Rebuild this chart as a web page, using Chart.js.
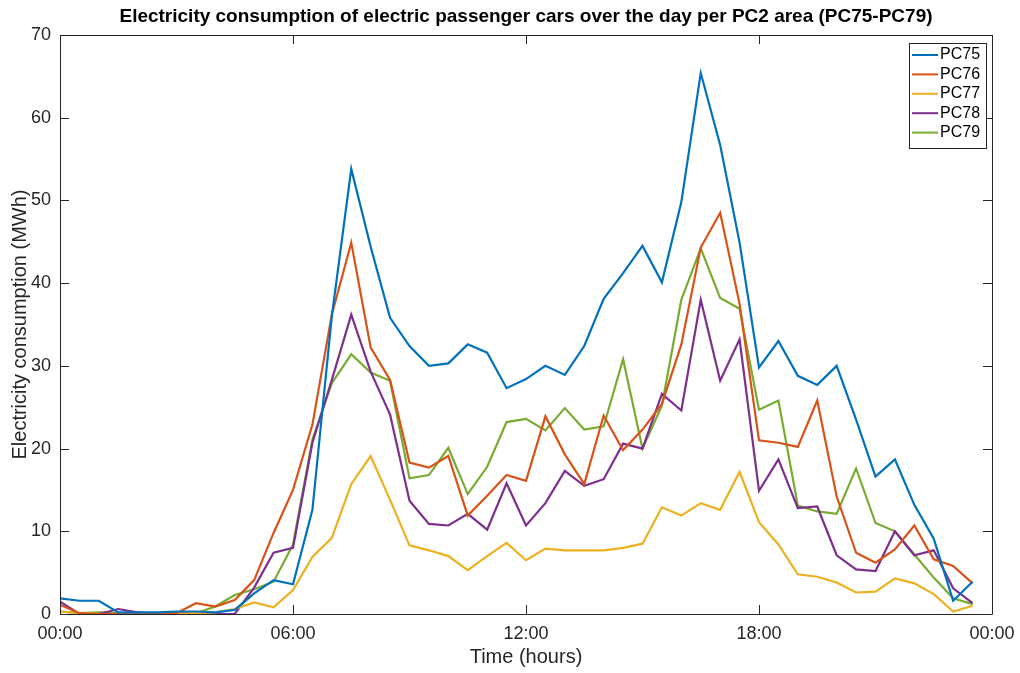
<!DOCTYPE html>
<html lang="en">

<head>
    <meta charset="UTF-8">
    <title>Electricity consumption PC75-PC79</title>
    <script src="https://cdn.jsdelivr.net/npm/chart.js"></script>
    <style>
        body {
            margin: 0;
            background-color: #ffffff;
        }

        .chart-box {
            width: 1020px;
            height: 673px;
        }
    </style>
</head>

<body>
    <div class="chart-box">
        <canvas id="pcChart" width="1020" height="673"></canvas>
    </div>

    <script>
        // half-hour slots, in hours since midnight
        const hours = [0, 0.5, 1, 1.5, 2, 2.5, 3, 3.5, 4, 4.5, 5, 5.5,
            6, 6.5, 7, 7.5, 8, 8.5, 9, 9.5, 10, 10.5, 11, 11.5,
            12, 12.5, 13, 13.5, 14, 14.5, 15, 15.5, 16, 16.5, 17, 17.5,
            18, 18.5, 19, 19.5, 20, 20.5, 21, 21.5, 22, 22.5, 23, 23.5];

        const seriesNames = ['PC75', 'PC76', 'PC77', 'PC78', 'PC79'];
        const seriesColors = ['#0072BD', '#D95319', '#EDB120', '#7E2F8E', '#77AC30'];

        // MWh per half hour
        const pc75 = [1.9, 1.6, 1.6, 0.2, 0.2, 0.2, 0.3, 0.3, 0.2, 0.5, 2.5, 4.1,
            3.6, 12.6, 36.0, 53.8, 44.4, 35.8, 32.4, 30.0, 30.3, 32.6, 31.6, 27.3,
            28.4, 30.0, 28.9, 32.4, 38.1, 41.2, 44.5, 40.1, 49.8, 65.4, 56.7, 44.9,
            29.8, 33.0, 28.8, 27.7, 30.0, 23.5, 16.6, 18.7, 13.2, 9.1, 1.6, 3.9];
        const pc76 = [1.1, 0.1, 0, 0, 0, 0, 0.1, 1.3, 0.9, 1.7, 4.1, 9.8,
            15.0, 22.9, 36.2, 44.9, 32.2, 28.3, 18.3, 17.7, 19.1, 11.9, 14.3, 16.8,
            16.1, 23.9, 19.3, 15.7, 24.0, 19.8, 22.3, 25.4, 32.6, 44.3, 48.5, 37.5,
            21.0, 20.7, 20.2, 25.8, 14.2, 7.4, 6.2, 7.8, 10.7, 6.6, 5.8, 3.7];
        const pc77 = [0.3, 0.1, 0, 0, 0.1, 0, 0, 0.1, 0.2, 0.6, 1.4, 0.8,
            2.9, 6.9, 9.2, 15.7, 19.1, 13.8, 8.3, 7.7, 7.0, 5.3, 7.0, 8.6,
            6.5, 7.9, 7.7, 7.7, 7.7, 8.0, 8.5, 12.9, 11.9, 13.4, 12.6, 17.2,
            11.1, 8.4, 4.8, 4.5, 3.8, 2.6, 2.7, 4.3, 3.7, 2.4, 0.3, 1.0];
        const pc78 = [1.5, 0, 0, 0.6, 0.2, 0, 0.1, 0, 0, 0, 3.2, 7.4,
            8.0, 20.7, 28.3, 36.2, 29.3, 24.1, 13.7, 10.9, 10.7, 12.1, 10.2, 15.8,
            10.7, 13.4, 17.3, 15.5, 16.3, 20.6, 20.0, 26.6, 24.6, 38.0, 28.2, 33.2,
            14.9, 18.7, 12.8, 13.0, 7.1, 5.4, 5.2, 10.0, 7.1, 7.7, 3.1, 1.3];
        const pc79 = [0.3, 0.1, 0.2, 0.1, 0.1, 0.1, 0.1, 0.1, 0.9, 2.3, 3.0, 3.9,
            8.4, 21.1, 27.9, 31.4, 29.2, 28.2, 16.4, 16.8, 20.1, 14.5, 17.8, 23.2,
            23.6, 22.2, 24.9, 22.3, 22.7, 30.8, 20.0, 25.2, 38.0, 44.2, 38.2, 36.9,
            24.7, 25.8, 13.1, 12.4, 12.1, 17.6, 11.0, 10.0, 7.2, 4.4, 1.9, 1.2];

        const xTickValues = [0, 6, 12, 18, 24];
        const xTickLabels = ['00:00', '06:00', '12:00', '18:00', '00:00'];
        const yTickValues = [0, 10, 20, 30, 40, 50, 60, 70];

        const allSeries = [pc75, pc76, pc77, pc78, pc79];
        const axisColor = '#262626';
        const fontFamily = "'Liberation Sans', Arial, Helvetica, sans-serif";

        // title, box, inward ticks and legend in MATLAB style
        const matlabLook = {
            id: 'matlabLook',
            afterDraw(chart) {
                const ctx = chart.ctx;
                const area = chart.chartArea;
                const xs = chart.scales.x;
                const ys = chart.scales.y;
                ctx.save();

                // box
                ctx.strokeStyle = axisColor;
                ctx.lineWidth = 1;
                ctx.beginPath();
                ctx.rect(area.left + 0.5, area.top + 0.5, area.right - area.left, area.bottom - area.top);
                ctx.stroke();

                // inward ticks
                ctx.beginPath();
                xTickValues.forEach(v => {
                    const px = Math.round(xs.getPixelForValue(v)) + 0.5;
                    ctx.moveTo(px, area.bottom);
                    ctx.lineTo(px, area.bottom - 9);
                    ctx.moveTo(px, area.top);
                    ctx.lineTo(px, area.top + 9);
                });
                yTickValues.forEach(v => {
                    const py = Math.round(ys.getPixelForValue(v)) + 0.5;
                    ctx.moveTo(area.left, py);
                    ctx.lineTo(area.left + 9, py);
                    ctx.moveTo(area.right, py);
                    ctx.lineTo(area.right - 9, py);
                });
                ctx.stroke();

                // title
                ctx.fillStyle = '#000000';
                ctx.font = 'bold 19px ' + fontFamily;
                ctx.textAlign = 'center';
                ctx.textBaseline = 'middle';
                ctx.fillText('Electricity consumption of electric passenger cars over the day per PC2 area (PC75-PC79)',
                    (area.left + area.right) / 2, 17);

                // legend
                const boxL = area.right - 83, boxT = area.top + 8, boxW = 77, boxH = 105;
                ctx.fillStyle = '#ffffff';
                ctx.fillRect(boxL, boxT, boxW, boxH);
                ctx.strokeStyle = axisColor;
                ctx.strokeRect(boxL + 0.5, boxT + 0.5, boxW, boxH);
                ctx.font = '16px ' + fontFamily;
                ctx.textAlign = 'left';
                chart.data.datasets.forEach((ds, i) => {
                    const rowY = boxT + 12 + i * 19.4;
                    ctx.strokeStyle = ds.borderColor;
                    ctx.lineWidth = 2;
                    ctx.beginPath();
                    ctx.moveTo(boxL + 3, rowY);
                    ctx.lineTo(boxL + 29, rowY);
                    ctx.stroke();
                    ctx.fillStyle = '#000000';
                    ctx.fillText(ds.label, boxL + 31, rowY);
                });
                ctx.restore();
            }
        };

        const ctx = document.getElementById('pcChart').getContext('2d');
        new Chart(ctx, {
            type: 'line',
            data: {
                datasets: allSeries.map((values, i) => ({
                    label: seriesNames[i],
                    data: values.map((v, j) => ({ x: hours[j], y: v })),
                    borderColor: seriesColors[i],
                    backgroundColor: seriesColors[i],
                    borderWidth: 2.2,
                    pointRadius: 0,
                    tension: 0,
                    fill: false
                }))
            },
            options: {
                responsive: false,
                animation: false,
                layout: {
                    padding: { top: 35, right: 28, left: 0, bottom: 0 }
                },
                plugins: {
                    legend: { display: false },
                    title: { display: false },
                    tooltip: { enabled: false }
                },
                scales: {
                    x: {
                        type: 'linear',
                        min: 0,
                        max: 24,
                        afterBuildTicks: scale => {
                            scale.ticks = xTickValues.map(v => ({ value: v }));
                        },
                        afterFit: scale => {
                            scale.height = 59;
                            scale.paddingLeft = 0;
                            scale.paddingRight = 0;
                        },
                        grid: { display: false, drawTicks: false },
                        border: { display: false },
                        ticks: {
                            color: '#262626',
                            padding: 9,
                            maxRotation: 0,
                            font: { family: fontFamily, size: 18 },
                            callback: value => xTickLabels[xTickValues.indexOf(value)]
                        },
                        title: {
                            display: true,
                            text: 'Time (hours)',
                            color: '#262626',
                            padding: { top: 0, bottom: 4 },
                            font: { family: fontFamily, size: 20 }
                        }
                    },
                    y: {
                        min: 0,
                        max: 70,
                        afterBuildTicks: scale => {
                            scale.ticks = yTickValues.map(v => ({ value: v }));
                        },
                        afterFit: scale => {
                            scale.width = 60;
                            scale.paddingTop = 0;
                            scale.paddingBottom = 0;
                        },
                        grid: { display: false, drawTicks: false },
                        border: { display: false },
                        ticks: {
                            color: '#262626',
                            padding: 9,
                            font: { family: fontFamily, size: 18 }
                        },
                        title: {
                            display: true,
                            text: 'Electricity consumption (MWh)',
                            color: '#262626',
                            padding: { top: 8, bottom: 0 },
                            font: { family: fontFamily, size: 20 }
                        }
                    }
                }
            },
            plugins: [matlabLook]
        });
    </script>
</body>

</html>
